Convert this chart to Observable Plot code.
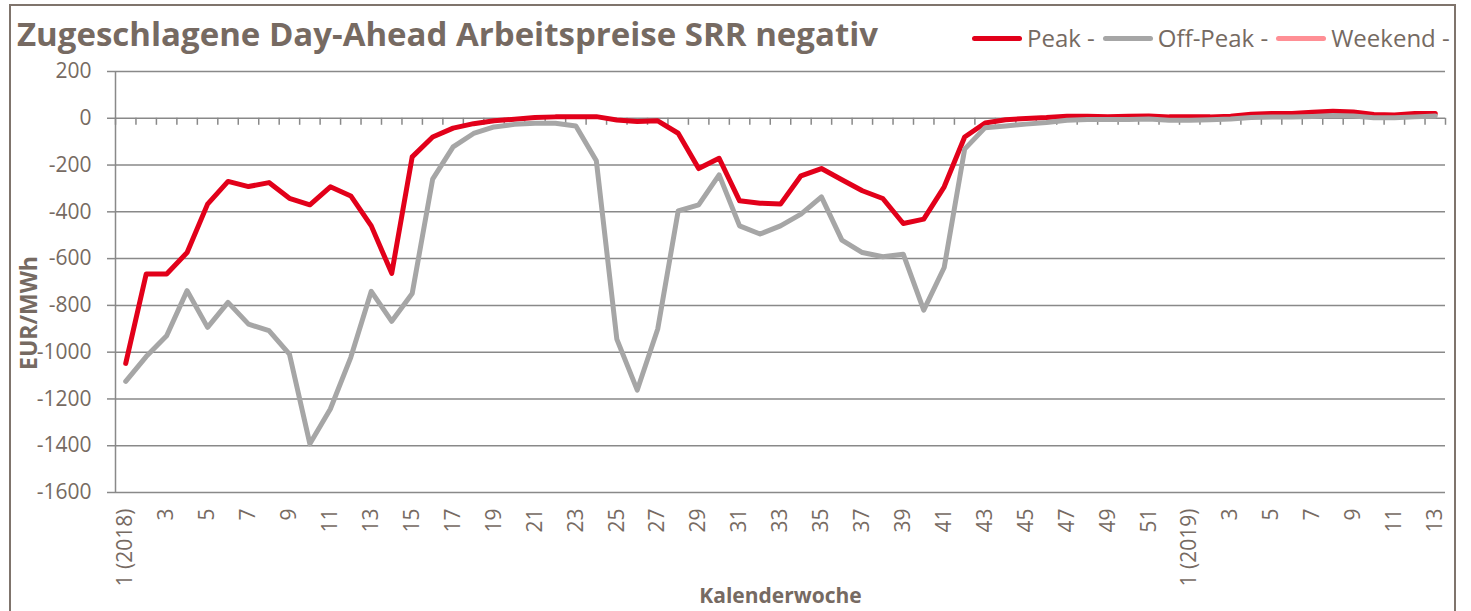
<!DOCTYPE html>
<html>
<head>
<meta charset="utf-8">
<script src="https://cdn.jsdelivr.net/npm/d3@7"></script>
<script src="https://cdn.jsdelivr.net/npm/@observablehq/plot@0.6"></script>
<style>
  html, body { margin: 0; padding: 0; background: #fff; }
  #wrap { position: relative; width: 1471px; height: 611px; overflow: hidden; font-family: "Open Sans", sans-serif; color: #766a62; }
  #frame { position: absolute; left: 9px; top: 4px; width: 1447px; height: 700px; border: 2px solid #7f746c; box-sizing: border-box; }
  #title { position: absolute; left: 17px; top: 11px; font-size: 33px; font-weight: 700; white-space: nowrap; line-height: 46px; }
  #legend { position: absolute; left: 972px; top: 20px; font-size: 24px; line-height: 36px; white-space: nowrap; display: flex; align-items: center; }
  #legend .sw { display: inline-block; width: 50px; height: 5px; border-radius: 3px; margin-right: 5px; }
  #legend .it { display: flex; align-items: center; margin-right: 8px; }
  #chart { position: absolute; left: 0; top: 0; }
</style>
</head>
<body>
<div id="wrap">
  <div id="frame"></div>
  <div id="chart"></div>
  <div id="title"></div>
  <div id="legend"></div>
</div>
<script>
const titleText = "Zugeschlagene Day-Ahead Arbeitspreise SRR negativ";
const yLabel = "EUR/MWh";
const xLabel = "Kalenderwoche";

const weekLabels = [
  "1 (2018)","2","3","4","5","6","7","8","9","10","11","12","13","14","15","16","17","18","19","20",
  "21","22","23","24","25","26","27","28","29","30","31","32","33","34","35","36","37","38","39","40",
  "41","42","43","44","45","46","47","48","49","50","51","52",
  "1 (2019)","2","3","4","5","6","7","8","9","10","11","12","13"
];

const peak = [
  -1048, -666, -666, -574, -367, -270, -292, -275, -342, -370,
  -293, -332, -460, -663, -165, -80, -42, -23, -11, -4,
  3, 6, 7, 7, -7, -14, -11, -64, -215, -171,
  -353, -363, -367, -246, -215, -263, -310, -343, -450, -431,
  -293, -80, -20, -6, -1, 3, 9, 9, 7, 9,
  10, 6,
  6, 6, 9, 17, 20, 20, 26, 30, 27, 16, 14, 20, 20
];

const offPeak = [
  -1125, -1019, -930, -737, -894, -787, -880, -908, -1008, -1392,
  -1243, -1022, -740, -868, -749, -260, -122, -65, -37, -26,
  -21, -21, -33, -182, -944, -1162, -901, -396, -370, -242,
  -460, -495, -460, -410, -336, -521, -574, -592, -581, -820,
  -638, -132, -40, -33, -25, -18, -8, -5, -5, -5,
  -3, -8,
  -8, -6, -3, 3, 5, 5, 8, 12, 10, 2, 2, 6, 10
];

const weekend = []; // keine sichtbaren Werte

const seriesNames = ["Peak -", "Off-Peak -", "Weekend -"];
const seriesColors = ["#e2001a", "#a6a6a6", "#ff8f95"];

const yTicks = [-1600, -1400, -1200, -1000, -800, -600, -400, -200, 0, 200];

// build tables
const idx = weekLabels.map((_, i) => i);
const peakData = idx.map(i => ({i, v: peak[i]}));
const offData = idx.map(i => ({i, v: offPeak[i]}));
const weekendData = weekend.map((v, i) => ({i, v}));
const xTicks = idx.filter(i => i % 2 === 0);
const boundaries = d3.range(0, weekLabels.length + 1).map(k => k - 0.5);

const grid = "#898989";

const chart = Plot.plot({
  width: 1471,
  height: 611,
  marginLeft: 115,
  marginRight: 26,
  marginTop: 71,
  marginBottom: 119,
  style: { fontFamily: "'Open Sans', sans-serif", color: "#766a62", background: "transparent" },
  x: { domain: [-0.5, weekLabels.length - 0.5] },
  y: { domain: [-1600, 200] },
  marks: [
    Plot.ruleY(yTicks, { stroke: grid, strokeWidth: 1.5 }),
    Plot.ruleX([-0.5], { stroke: grid, strokeWidth: 1.5 }),
    Plot.ruleX(boundaries, { x: d => d, y1: 0, y2: -30, stroke: grid, strokeWidth: 1.5 }),
    Plot.axisY(yTicks, { tickSize: 8, tickPadding: 16, tickFormat: d => String(d), fontSize: 21, stroke: grid, strokeWidth: 1.5, strokeOpacity: 1, label: null }),
    Plot.axisX(xTicks, { tickSize: 0, tickPadding: 16, tickRotate: -90, tickFormat: i => weekLabels[i], fontSize: 21, label: null }),
    Plot.text([yLabel], { frameAnchor: "left", textAnchor: "middle", dx: -86, dy: 31, rotate: -90, fontSize: 23, fontWeight: "bold", fill: "#766a62" }),
    Plot.text([xLabel], { frameAnchor: "bottom", dy: 110, lineAnchor: "bottom", fontSize: 21, fontWeight: "bold", fill: "#766a62" }),
    Plot.line(peakData, { x: "i", y: "v", stroke: seriesColors[0], strokeWidth: 5, strokeLinejoin: "round", strokeLinecap: "round" }),
    Plot.line(offData, { x: "i", y: "v", stroke: seriesColors[1], strokeWidth: 5, strokeLinejoin: "round", strokeLinecap: "round" }),
    Plot.line(weekendData, { x: "i", y: "v", stroke: seriesColors[2], strokeWidth: 5, strokeLinejoin: "round", strokeLinecap: "round" })
  ]
});
document.getElementById("chart").appendChild(chart);
document.getElementById("title").textContent = titleText;

const legend = document.getElementById("legend");
seriesNames.forEach((name, k) => {
  const it = document.createElement("span");
  it.className = "it";
  const sw = document.createElement("span");
  sw.className = "sw";
  sw.style.background = seriesColors[k];
  it.appendChild(sw);
  it.appendChild(document.createTextNode(name));
  legend.appendChild(it);
});
</script>
</body>
</html>
